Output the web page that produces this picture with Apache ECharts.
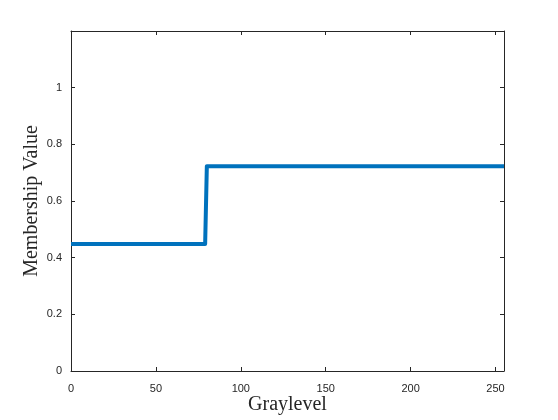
<!DOCTYPE html>
<html>
<head>
<meta charset="utf-8">
<script src="https://cdn.jsdelivr.net/npm/echarts@6/dist/echarts.min.js"></script>
<style>
html,body{margin:0;padding:0;background:#fff;}
#chart{width:558px;height:420px;}
</style>
</head>
<body>
<div id="chart"></div>
<script>
// Breakpoints of the membership step curve (gray level -> membership value)
var grayLevels = [0, 79, 80, 255];
var membership = [0.448, 0.448, 0.723, 0.723];
var xTicks = [0, 50, 100, 150, 200, 250];
var yTicks = [0, 0.2, 0.4, 0.6, 0.8, 1];
var xLabel = 'Graylevel';
var yLabel = 'Membership Value';

var seriesData = grayLevels.map(function (g, i) { return [g, membership[i]]; });
var axisColor = '#262626';
var tickFont = { color: axisColor, fontSize: 11, fontFamily: 'Liberation Sans, Arial, sans-serif' };

function xFmt(v) { return xTicks.indexOf(v) >= 0 ? String(v) : ''; }
function yFmt(v) {
  for (var i = 0; i < yTicks.length; i++) if (Math.abs(yTicks[i] - v) < 1e-9) return String(yTicks[i]);
  return '';
}

var chart = echarts.init(document.getElementById('chart'), null, { renderer: 'canvas' });
chart.setOption({
  backgroundColor: '#ffffff',
  animation: false,
  grid: { left: 71, right: 54, top: 31, bottom: 47, containLabel: false },
  xAxis: [{
    type: 'value', min: 0, max: 255, interval: 50, position: 'bottom',
    name: xLabel, nameLocation: 'middle', nameGap: 24, nameMoveOverlap: false,
    nameTextStyle: { color: axisColor, fontSize: 20, fontFamily: 'Liberation Serif, serif' },
    axisLine: { show: true, onZero: false, lineStyle: { color: axisColor, width: 1 } },
    axisTick: { show: true, inside: true, length: 4, lineStyle: { color: axisColor } },
    axisLabel: Object.assign({ margin: 12, formatter: xFmt }, tickFont),
    splitLine: { show: false }
  }, {
    type: 'value', min: 0, max: 255, interval: 50, position: 'top',
    axisLine: { show: true, onZero: false, lineStyle: { color: axisColor, width: 1 } },
    axisTick: { show: true, inside: true, length: 4, lineStyle: { color: axisColor } },
    axisLabel: { show: false },
    splitLine: { show: false }
  }],
  yAxis: [{
    type: 'value', min: 0, max: 1.2, interval: 0.2, position: 'left',
    name: yLabel, nameLocation: 'middle', nameGap: 29, nameMoveOverlap: false,
    nameTextStyle: { color: axisColor, fontSize: 20, fontFamily: 'Liberation Serif, serif' },
    axisLine: { show: true, onZero: false, lineStyle: { color: axisColor, width: 1 } },
    axisTick: { show: true, inside: true, length: 4, lineStyle: { color: axisColor } },
    axisLabel: Object.assign({ margin: 9, formatter: yFmt, padding: [4, 0, 0, 0] }, tickFont),
    splitLine: { show: false }
  }, {
    type: 'value', min: 0, max: 1.2, interval: 0.2, position: 'right',
    axisLine: { show: true, onZero: false, lineStyle: { color: axisColor, width: 1 } },
    axisTick: { show: true, inside: true, length: 4, lineStyle: { color: axisColor } },
    axisLabel: { show: false },
    splitLine: { show: false }
  }],
  series: [{
    type: 'line',
    xAxisIndex: 0, yAxisIndex: 0,
    data: seriesData,
    showSymbol: false,
    symbol: 'none',
    lineStyle: { color: '#0072BD', width: 4, join: 'round', cap: 'butt' },
    silent: true
  }]
});
</script>
</body>
</html>
